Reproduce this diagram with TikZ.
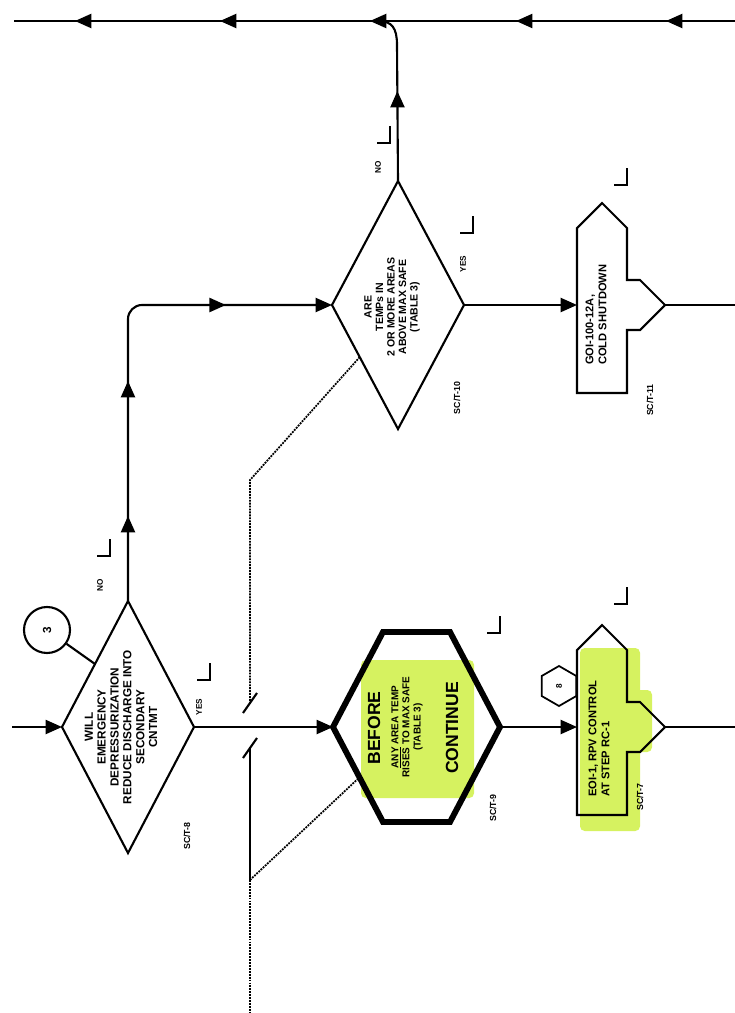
\documentclass[tikz,border=0pt]{standalone}
\usepackage{fontspec}
\setmainfont{Liberation Sans}
\usetikzlibrary{shapes.geometric,arrows.meta,decorations.markings,calc}

\definecolor{hilite}{RGB}{214,242,96}

\tikzset{
  flow/.style={line width=1.8pt},
  tip/.style={-{Triangle[length=14pt,width=12pt]}},
  arrowat/.style={postaction={decorate,decoration={markings,
      mark=at position #1 with {\arrow{Triangle[length=14pt,width=12pt]}}}}},
  dia/.style={diamond, draw, line width=1.8pt, inner sep=0pt, outer sep=0pt},
  vtext/.style={rotate=90, inner sep=0pt, align=center, font=\fontsize{10}{11}\selectfont\bfseries},
  boxtext/.style={rotate=90, inner sep=0pt, align=left, anchor=west, font=\fontsize{9.5}{11}\selectfont\bfseries},
  tag/.style={rotate=90, inner sep=0pt, font=\fontsize{7.5}{9}\selectfont\bfseries},
  yn/.style={rotate=90, inner sep=0pt, font=\fontsize{7}{8}\selectfont\bfseries},
  dots/.style={line width=1.5pt, dash pattern=on 1.6pt off 0.9pt},
  exitbox/.pic={
    \draw[flow] (0,88) -- (0,-77) -- (25,-102) -- (50,-77) -- (50,-25) -- (63,-25)
      -- (88,0) -- (63,25) -- (50,25) -- (50,88) -- cycle;
    \coordinate (-in) at (0,0);
    \coordinate (-out) at (88,0);
  }
}

\begin{document}
\begin{tikzpicture}[x=0.03cm, y=-0.03cm]
  \useasboundingbox (0,0) rectangle (735,1013);

  % highlighter
  \fill[hilite, rounded corners=4pt] (361,660) rectangle (474,798);
  \fill[hilite, rounded corners=4pt] (580,648) rectangle (640,831);
  \fill[hilite, rounded corners=4pt] (627,690) rectangle (652,752);

  % decisions
  \node[dia, minimum width=3.96cm, minimum height=7.56cm] (d1) at (128,727) {};
  \node[vtext] (d1t) at (121,727) {WILL\\EMERGENCY\\DEPRESSURIZATION\\REDUCE DISCHARGE INTO\\SECONDARY\\CNTMT};
  \node[dia, minimum width=3.96cm, minimum height=7.44cm] (d2) at (398,305) {};
  \node[vtext, font=\fontsize{9}{9.8}\selectfont\bfseries] (d2t) at (392,307) {ARE\\TEMPs IN\\2 OR MORE AREAS\\ABOVE MAX SAFE\\(TABLE 3)};

  % before/continue hexagon
  \coordinate (hxW) at (333,727);
  \coordinate (hxNW) at (383,632);
  \coordinate (hxNE) at (450,632);
  \coordinate (hxE) at (500,727);
  \coordinate (hxSE) at (450,822);
  \coordinate (hxSW) at (383,822);
  \draw[line width=5pt] (hxW) -- (hxNW) -- (hxNE) -- (hxE) -- (hxSE) -- (hxSW) -- cycle;
  \node[rotate=90, inner sep=0pt, font=\fontsize{15}{15}\selectfont\bfseries] (hxB) at (374,728) {BEFORE};
  \node[vtext, font=\fontsize{8.5}{9.5}\selectfont\bfseries] (hxT) at (407,727) {\underline{ANY} AREA TEMP\\RISES TO MAX SAFE\\(TABLE 3)};
  \node[rotate=90, inner sep=0pt, font=\fontsize{15}{15}\selectfont\bfseries] (hxC) at (452,728) {CONTINUE};

  % exits
  \pic (b1) at (577,727) {exitbox};
  \node[boxtext] (b1t) at (599,797) {EOI-1, RPV CONTROL\\AT STEP RC-1};
  \pic (b2) at (577,305) {exitbox};
  \node[boxtext] (b2t) at (596,365) {GOI-100-12A,\\COLD SHUTDOWN};

  % entry marks
  \node[circle, draw, line width=1.8pt, minimum size=1.38cm, inner sep=0pt, rotate=90,
        font=\fontsize{10}{10}\selectfont\bfseries] (c3) at (47,630) {3};
  \node[regular polygon, regular polygon sides=6, draw, line width=1.5pt, rotate=90,
        minimum size=1.2cm, inner sep=0pt, font=\fontsize{7}{7}\selectfont\bfseries] (h8) at (559,686) {8};

  % step numbers
  \node[tag] (t8) at (187,836) {SC/T-8};
  \node[tag] (t9) at (493,808) {SC/T-9};
  \node[tag] (t7) at (640,797) {SC/T-7};
  \node[tag] (t10) at (457,398) {SC/T-10};
  \node[tag] (t11) at (650,400) {SC/T-11};

  \node[yn] (y1) at (199,707) {YES};
  \node[yn] (n1) at (100,585) {NO};
  \node[yn] (n2) at (378,167) {NO};
  \node[yn] (y2) at (463,264) {YES};

  % place keeping marks
  \foreach \cx/\cy in {210/680, 110/556, 500/633, 627/604, 390/143, 473/233, 627/185}
    \draw[flow] (\cx,\cy-17) -- (\cx,\cy) -- (\cx-13,\cy);

  % flow lines
  \coordinate (in0) at (12,727);
  \coordinate (out1) at (735,727);
  \coordinate (out2) at (735,305);
  \coordinate (topR) at (735,21);
  \coordinate (topL) at (14,21);
  \draw[flow, tip] (in0) -- (d1.west);
  \draw[flow] (c3) -- ($(d1.west)!0.5!(d1.north)$);
  \draw[flow, tip] (d1.east) -- (hxW);
  \draw[flow, tip] (hxE) -- (b1-in);
  \draw[flow] (b1-out) -- (out1);
  \draw[flow, rounded corners=12pt, arrowat=72.6pt, arrowat=187.8pt, arrowat=331pt, tip]
    (d1.north) -- (d1.north |- d2.west) -- (d2.west);
  \draw[flow, tip] (d2.east) -- (b2-in);
  \draw[flow] (b2-out) -- (out2);
  \draw[flow, arrowat=76.8pt] (d2.north) -- (397,45) .. controls (397,28) and (392,21) .. (378,21);
  \draw[flow, arrowat=58.9pt, arrowat=186.9pt, arrowat=311.6pt, arrowat=439.6pt, arrowat=563.4pt]
    (topR) -- (topL);

  % break in the flow line
  \coordinate (brk1) at ($(d2.west)!0.42!(d2.south)$);
  \coordinate (brk2) at ($(hxW)!0.53!(hxSW)$);
  \draw[dots] (brk1) -- (250,480) -- (250,703);
  \draw[flow] (243,713) -- (257,693);
  \draw[flow] (243,758) -- (257,738);
  \draw[flow] (250,748) -- (250,880);
  \draw[dots] (250,880) -- (brk2);
  \draw[dots] (250,880) -- (250,1013);
\end{tikzpicture}
\end{document}
